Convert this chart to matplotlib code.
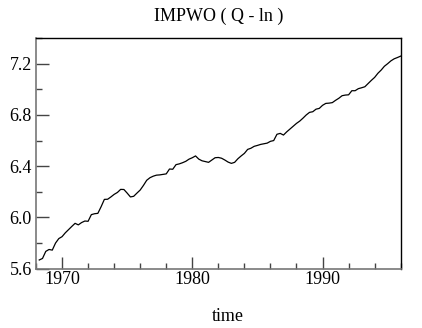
import matplotlib
matplotlib.use("Agg")
import matplotlib.pyplot as plt
from matplotlib.ticker import MultipleLocator

# quarterly series, 1968Q2 .. 1996Q1
start_year = 1968.25
impwo = [
    5.668, 5.680, 5.735,
    5.750, 5.745, 5.800, 5.835,
    5.850, 5.880, 5.905, 5.930,
    5.954, 5.942, 5.960, 5.972,
    5.970, 6.022, 6.029, 6.032,
    6.084, 6.141, 6.142, 6.160,
    6.180, 6.195, 6.219, 6.218,
    6.190, 6.160, 6.165, 6.190,
    6.214, 6.250, 6.290, 6.310,
    6.322, 6.330, 6.332, 6.336,
    6.340, 6.378, 6.376, 6.412,
    6.418, 6.427, 6.438, 6.455,
    6.466, 6.480, 6.455, 6.442,
    6.436, 6.430, 6.448, 6.466,
    6.468, 6.462, 6.448, 6.432,
    6.422, 6.430, 6.458, 6.480,
    6.500, 6.531, 6.540, 6.555,
    6.562, 6.570, 6.575, 6.580,
    6.594, 6.600, 6.649, 6.656,
    6.643, 6.668, 6.690, 6.712,
    6.734, 6.752, 6.775, 6.800,
    6.820, 6.825, 6.845, 6.851,
    6.875, 6.890, 6.892, 6.896,
    6.914, 6.930, 6.950, 6.955,
    6.957, 6.989, 6.989, 7.005,
    7.012, 7.020, 7.045, 7.070,
    7.093, 7.125, 7.150, 7.180,
    7.200, 7.222, 7.238, 7.248,
    7.259,
]
time = [start_year + 0.25 * i for i in range(len(impwo))]

plt.rcParams["font.family"] = ["Liberation Serif", "DejaVu Serif"]

fig = plt.figure(figsize=(4.22, 3.28), dpi=100)
ax = fig.add_axes([0.0853, 0.1808, 0.8642, 0.7032])
ax.plot(time, impwo, color="black", lw=0.9)

ax.set_xlim(1968, 1996)
ax.set_ylim(5.6, 7.4)
ax.xaxis.set_major_locator(MultipleLocator(10))
ax.xaxis.set_minor_locator(MultipleLocator(2))
ax.yaxis.set_major_locator(MultipleLocator(0.4))
ax.yaxis.set_minor_locator(MultipleLocator(0.2))
ax.yaxis.set_major_formatter(matplotlib.ticker.FormatStrFormatter("%.1f"))

ax.tick_params(which="both", direction="in", top=False, right=False,
               labelsize=13, color="#444444", width=1)
ax.tick_params(axis="x", which="major", length=9, pad=2)
ax.tick_params(axis="x", which="minor", length=4.5)
ax.tick_params(axis="y", which="major", length=9, pad=3)
ax.tick_params(axis="y", which="minor", length=4.5)

for s in ["left", "bottom"]:
    ax.spines[s].set_color("#777777")
    ax.spines[s].set_linewidth(1.2)
for s in ["top", "right"]:
    ax.spines[s].set_color("black")
    ax.spines[s].set_linewidth(1.0)

ax.set_title("IMPWO ( Q - ln )", fontsize=13, pad=12)
ax.set_xlabel("time", fontsize=13)
ax.xaxis.set_label_coords(0.527, -0.17)

plt.savefig("out.png", dpi=100)
